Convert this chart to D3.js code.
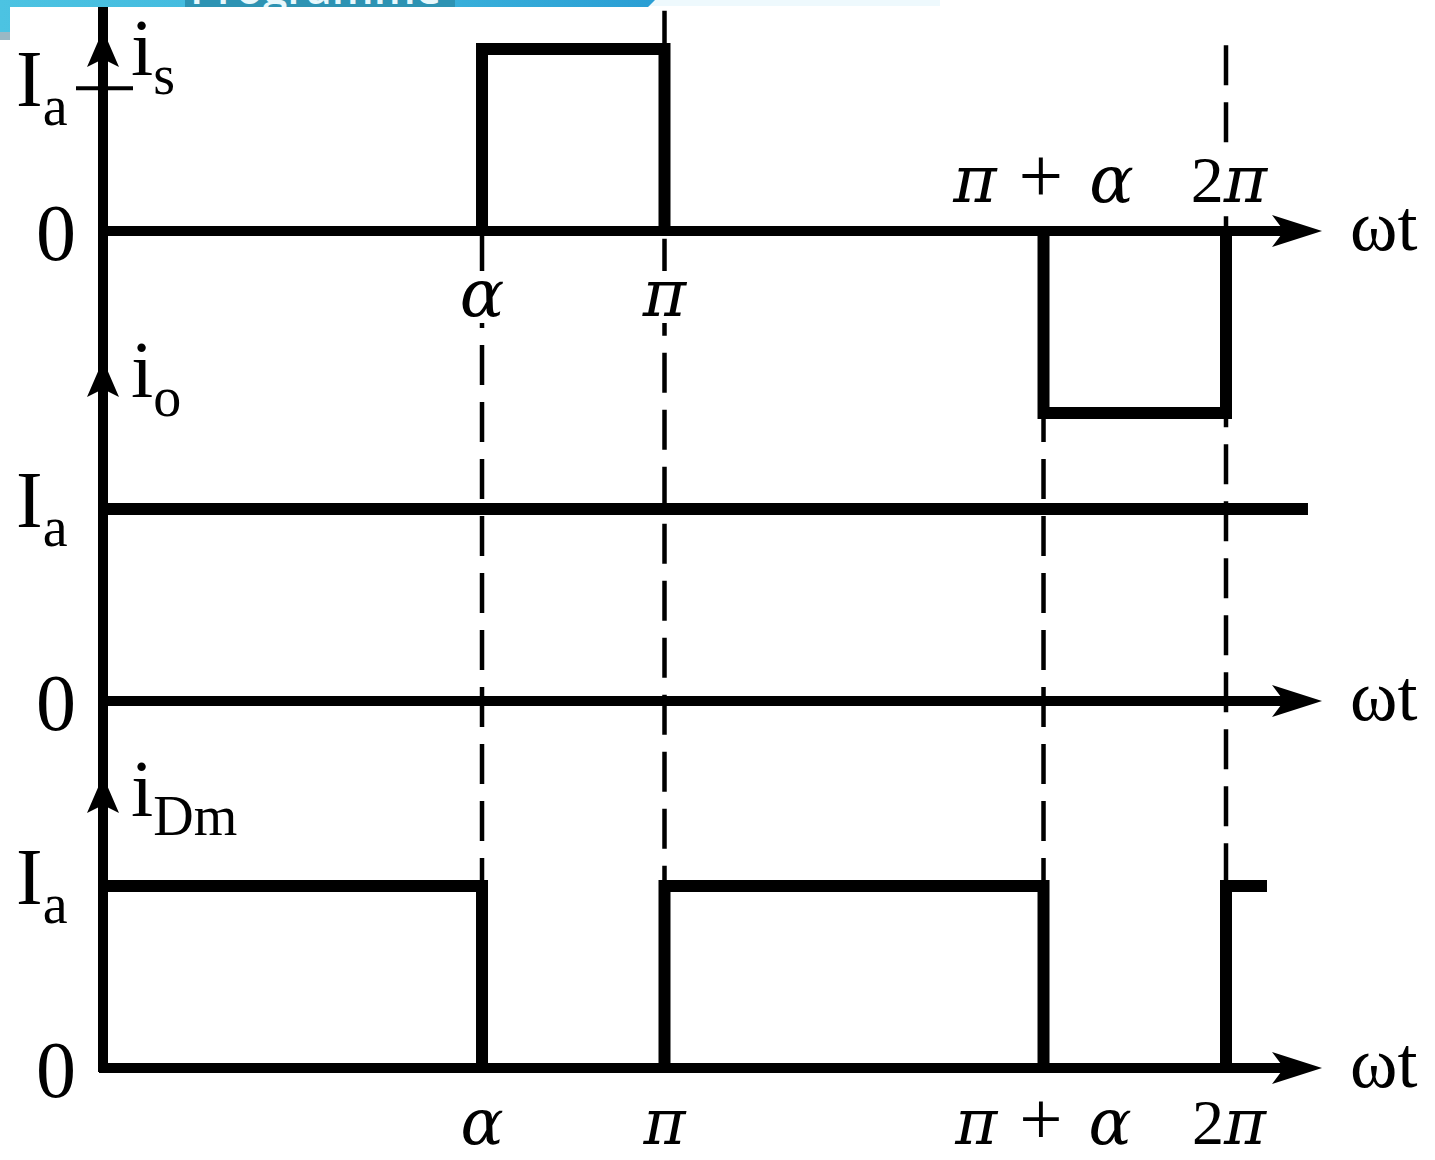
<!DOCTYPE html>
<html>
<head>
<meta charset="utf-8">
<script src="https://cdn.jsdelivr.net/npm/d3@7"></script>
<style>
  html, body { margin: 0; padding: 0; background: #fff; }
  svg { display: block; }
  text { font-family: "Liberation Serif", "Times New Roman", serif; fill: #000; }
  .greek { font-family: "DejaVu Serif", "Liberation Serif", serif; font-style: italic; }
</style>
</head>
<body>
<svg id="chart" width="1435" height="1160"></svg>
<script>
// Firing angle α, expressed in units of π
const alpha = 0.675;

// Marked instants on the ωt axis (units of π) and their labels
const tickAngles = [alpha, 1, 1 + alpha, 2];
const tickLabels = ["α", "π", "π + α", "2π"];

// Supply current i_s : rectangular pulses (start, end, level in units of Ia)
const isStart = [alpha, 1 + alpha];
const isEnd   = [1, 2];
const isLevel = [1, -1];
const isIaMark = 0.785;        // where the Ia tick sits on the i_s axis

// Load current i_o : constant Ia
const ioStart = [0];
const ioEnd   = [2.146];
const ioLevel = [1];

// Freewheeling diode current i_Dm
const dmStart = [0, 1, 2];
const dmEnd   = [alpha, 1 + alpha, 2.073];
const dmLevel = [1, 1, 1];

// Upper reach of each dashed guide (units of the i_s axis)
const guideTop = [0, 1.21, 0, 1.02];

// Length of the ωt axes (units of π)
const axisEnd = 2.171;

// ---------------------------------------------------------------
const svg = d3.select("#chart");
svg.append("rect").attr("width", 1435).attr("height", 1160).attr("fill", "#fff");

const x = d3.scaleLinear().domain([0, 2]).range([103, 1226]);

const panels = [
  { y: d3.scaleLinear().domain([0, 1]).range([231, 49]),  main: "i", sub: "s",  arrowTip: 30,  nameY: 75,  iaMark: isIaMark },
  { y: d3.scaleLinear().domain([0, 1]).range([701, 509]), main: "i", sub: "o",  arrowTip: 360, nameY: 397, iaMark: 1 },
  { y: d3.scaleLinear().domain([0, 1]).range([1068, 886]), main: "i", sub: "Dm", arrowTip: 776, nameY: 816, iaMark: 1 }
];
const yTop = panels[0].y, yBot = panels[2].y;

const wave = d3.line().x(d => x(d[0])).y(d => d[1]);

// dashed guides at the switching instants
const guides = svg.append("g")
  .attr("stroke", "#000").attr("stroke-width", 4.5).attr("stroke-dasharray", "40,17");
tickAngles.forEach((t, i) => {
  guides.append("line")
    .attr("x1", x(t)).attr("x2", x(t))
    .attr("y1", yTop(guideTop[i])).attr("y2", yBot(0));
});

// axes
const axes = svg.append("g").attr("stroke", "#000").attr("stroke-width", 10).attr("fill", "none");
axes.append("line")
  .attr("x1", x(0)).attr("x2", x(0))
  .attr("y1", 6).attr("y2", yBot(0) + 4);

panels.forEach(p => {
  const y0 = p.y(0);
  const tipX = x(axisEnd);
  axes.append("line")
    .attr("x1", x(0) - 4).attr("x2", tipX - 30)
    .attr("y1", y0).attr("y2", y0);
  // horizontal arrow head
  svg.append("path")
    .attr("d", `M${tipX},${y0} L${tipX - 50},${y0 - 16} L${tipX - 38},${y0} L${tipX - 50},${y0 + 16} Z`)
    .attr("fill", "#000");
  // vertical arrow head
  const ax = x(0), at = p.arrowTip;
  svg.append("path")
    .attr("d", `M${ax},${at} L${ax - 16},${at + 37} L${ax},${at + 29} L${ax + 16},${at + 37} Z`)
    .attr("fill", "#000");
  // ωt label
  const wt = svg.append("text").attr("x", 1350).attr("y", y0 + 19).attr("font-size", 72);
  wt.append("tspan").text("ω");
  wt.append("tspan").text("t");
  // 0 label
  svg.append("text").attr("x", 56).attr("y", y0 + 29)
    .attr("text-anchor", "middle").attr("font-size", 80).text("0");
  // Ia label
  const iaY = p.y(p.iaMark);
  const ia = svg.append("text").attr("x", 16).attr("y", iaY + 18).attr("font-size", 80);
  ia.append("tspan").text("I");
  ia.append("tspan").attr("dy", 19).attr("font-size", 56).text("a");
  // axis name
  const nm = svg.append("text").attr("x", 131).attr("y", p.nameY).attr("font-size", 80);
  nm.append("tspan").text(p.main);
  nm.append("tspan").attr("dy", 19).attr("font-size", 56).text(p.sub);
});

// Ia tick on the i_s axis
svg.append("line")
  .attr("x1", 76).attr("x2", 133)
  .attr("y1", yTop(isIaMark)).attr("y2", yTop(isIaMark))
  .attr("stroke", "#000").attr("stroke-width", 4);

// waveforms
function drawPulses(starts, ends, levels, y) {
  starts.forEach((s, i) => {
    const e = ends[i], lv = levels[i];
    const pts = [];
    if (s > 0) pts.push([s, y(0)]);
    pts.push([s, y(lv)], [e, y(lv)]);
    if (tickAngles.includes(e)) pts.push([e, y(0)]);
    svg.append("path")
      .attr("d", wave(pts))
      .attr("fill", "none").attr("stroke", "#000")
      .attr("stroke-width", 12).attr("stroke-linejoin", "miter");
  });
}
drawPulses(isStart, isEnd, isLevel, panels[0].y);
drawPulses(ioStart, ioEnd, ioLevel, panels[1].y);
drawPulses(dmStart, dmEnd, dmLevel, panels[2].y);

// tick labels: α, π below the i_s axis; π+α, 2π above it; all four under the i_Dm axis
function tickLabel(i, baseline, size, knockout) {
  const t = svg.append("text")
    .attr("x", x(tickAngles[i]) + (i === 3 ? 3 : 0)).attr("y", baseline)
    .attr("text-anchor", "middle").attr("font-size", size);
  const lbl = tickLabels[i];
  if (lbl === "2π") {
    t.append("tspan").text("2");
    t.append("tspan").attr("class", "greek").text("π");
  } else if (lbl === "π + α") {
    const [a, op, b] = lbl.split(" ");
    t.append("tspan").attr("class", "greek").text(a);
    t.append("tspan").attr("dx", 22).attr("font-size", size * 1.2).text(op);
    t.append("tspan").attr("dx", 26).attr("class", "greek").text(b);
  } else {
    t.append("tspan").attr("class", "greek").text(lbl);
  }
  if (knockout) {
    const b = t.node().getBBox();
    svg.insert("rect", "text")
      .attr("x", b.x - 2).attr("y", baseline - 45)
      .attr("width", b.width + 4).attr("height", 52)
      .attr("fill", "#fff");
  }
}
tickLabel(0, 316, 66, true);
tickLabel(1, 316, 66, true);
tickLabel(2, 202, 66, false);
tickLabel(3, 202, 66, true);
[0, 1, 2, 3].forEach(i => tickLabel(i, 1144, 64, false));

// banner strip along the top edge
const defs = svg.append("defs");
const grad = defs.append("linearGradient").attr("id", "band");
grad.append("stop").attr("offset", "0%").attr("stop-color", "#4cc3e2");
grad.append("stop").attr("offset", "60%").attr("stop-color", "#3cb4dc");
grad.append("stop").attr("offset", "100%").attr("stop-color", "#2a9ed4");
svg.append("rect").attr("x", 640).attr("y", 0).attr("width", 300).attr("height", 6).attr("fill", "#eef9fd");
svg.append("path").attr("d", "M0,0 H655 L648,7 H10 V32 H0 Z").attr("fill", "url(#band)");
svg.append("rect").attr("x", 0).attr("y", 32).attr("width", 10).attr("height", 8).attr("fill", "#9ab8c4");
svg.append("rect").attr("x", 185).attr("y", 0).attr("width", 270).attr("height", 7).attr("fill", "#2d93b3");
defs.append("clipPath").attr("id", "bandClip")
  .append("rect").attr("x", 0).attr("y", 0).attr("width", 700).attr("height", 7);
svg.append("text").attr("x", 190).attr("y", 4)
  .attr("clip-path", "url(#bandClip)")
  .style("font-family", "'Open Sans', sans-serif").attr("font-size", 44).attr("font-weight", 600)
  .style("fill", "#e8f8fc").text("Programme");
</script>
</body>
</html>
